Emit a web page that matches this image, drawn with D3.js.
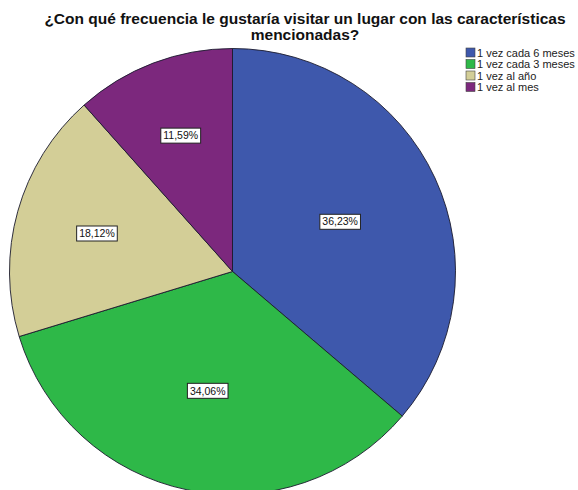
<!DOCTYPE html>
<html>
<head>
<meta charset="utf-8">
<script src="https://cdn.jsdelivr.net/npm/d3@7"></script>
<style>
  html, body { margin: 0; padding: 0; background: #fff; }
  svg { display: block; }
</style>
</head>
<body>
<svg id="chart" width="578" height="490"></svg>
<script>
// Survey answers: how often respondents would visit the place
const categories = ["1 vez cada 6 meses", "1 vez cada 3 meses", "1 vez al año", "1 vez al mes"];
const percents = [36.23, 34.06, 18.12, 11.59];
const colors = ["#3E58AC", "#2EB848", "#D3CE97", "#7C287D"];
const titleLines = ["¿Con qué frecuencia le gustaría visitar un lugar con las características", "mencionadas?"];

const svg = d3.select("#chart");
const cx = 232.5, cy = 271.5, r = 223;

// Title
const title = svg.append("text")
  .attr("x", 305)
  .attr("y", 23.5)
  .attr("text-anchor", "middle")
  .style("font-family", "'Liberation Sans', Arial, sans-serif")
  .style("font-weight", "bold")
  .style("font-size", "15.5px")
  .attr("fill", "#111");
titleLines.forEach((t, i) => {
  title.append("tspan").attr("x", 305).attr("dy", i === 0 ? 0 : 16.5).text(t);
});

const data = categories.map((c, i) => ({ cat: c, value: percents[i], color: colors[i] }));

const pie = d3.pie().value(d => d.value).sort(null);
const arcs = pie(data);
const arc = d3.arc().innerRadius(0).outerRadius(r);

const g = svg.append("g").attr("transform", `translate(${cx},${cy})`);

g.selectAll("path.slice")
  .data(arcs)
  .join("path")
  .attr("class", "slice")
  .attr("d", arc)
  .attr("fill", d => d.data.color)
  .attr("stroke", "#1b1b2e")
  .attr("stroke-width", 0.9);

// Labels sit at each slice's area centroid
const fmt = v => v.toFixed(2).replace(".", ",") + "%";
const labels = g.selectAll("g.lbl")
  .data(arcs)
  .join("g")
  .attr("class", "lbl")
  .attr("transform", d => {
    const theta = d.endAngle - d.startAngle;
    const mid = (d.startAngle + d.endAngle) / 2;
    const dist = 4 * r * Math.sin(theta / 2) / (3 * theta);
    return `translate(${dist * Math.sin(mid)},${-dist * Math.cos(mid)})`;
  });

labels.each(function(d) {
  const sel = d3.select(this);
  const t = sel.append("text")
    .attr("text-anchor", "middle")
    .attr("dy", "0.35em")
    .style("font-family", "'Liberation Sans', Arial, sans-serif")
    .style("font-size", "10.5px")
    .attr("fill", "#111")
    .text(fmt(d.data.value));
  const bb = t.node().getBBox();
  sel.insert("rect", "text")
    .attr("x", bb.x - 2.5)
    .attr("y", -7.5)
    .attr("width", bb.width + 5)
    .attr("height", 15)
    .attr("fill", "#fff")
    .attr("stroke", "#222")
    .attr("stroke-width", 1);
});

// Legend
const legend = svg.append("g").attr("transform", "translate(466,48)");
const items = legend.selectAll("g.item")
  .data(data)
  .join("g")
  .attr("class", "item")
  .attr("transform", (d, i) => `translate(0,${i * 11.5})`);
items.append("rect")
  .attr("width", 9)
  .attr("height", 9)
  .attr("fill", d => d.color)
  .attr("stroke", "#444")
  .attr("stroke-width", 0.6);
items.append("text")
  .attr("x", 11)
  .attr("y", 8.5)
  .style("font-family", "'Liberation Sans', Arial, sans-serif")
  .style("font-size", "11px")
  .attr("fill", "#222")
  .text(d => d.cat);
</script>
</body>
</html>
